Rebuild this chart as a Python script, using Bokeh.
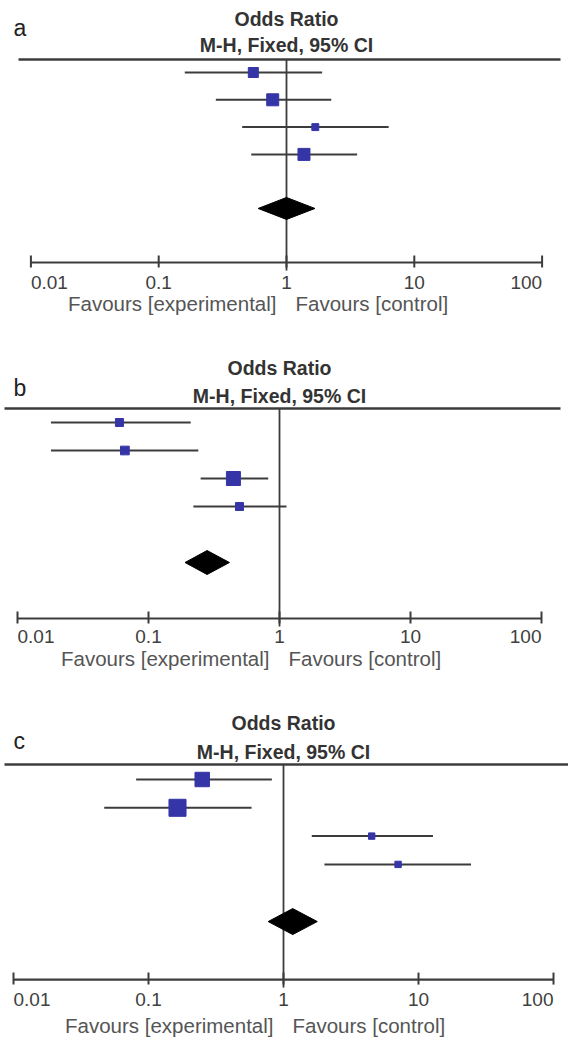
import math
from bokeh.plotting import figure
from bokeh.models import Range1d
from bokeh.layouts import column
from bokeh.core.properties import value
from bokeh.embed import file_html
from bokeh.resources import INLINE

# ---------------- data ----------------
panel_letters = ["a", "b", "c"]
title_line1 = "Odds Ratio"
title_line2 = "M-H, Fixed, 95% CI"
tick_values = [0.01, 0.1, 1, 10, 100]
tick_labels = ["0.01", "0.1", "1", "10", "100"]
favours_left = "Favours [experimental]"
favours_right = "Favours [control]"

# panel a: study odds ratios, 95% CI, weights (%) and pooled estimate
a_or = [0.55, 0.78, 1.68, 1.37]
a_lo = [0.16, 0.28, 0.45, 0.53]
a_hi = [1.90, 2.24, 6.30, 3.57]
a_wt = [23, 33, 11, 33]
a_pooled = [1.00, 0.60, 1.67]  # OR, lower, upper

# panel b
b_or = [0.060, 0.066, 0.445, 0.495]
b_lo = [0.018, 0.018, 0.25, 0.22]
b_hi = [0.21, 0.24, 0.82, 1.13]
b_wt = [16, 19, 49, 16]
b_pooled = [0.28, 0.19, 0.415]

# panel c
c_or = [0.25, 0.164, 4.5, 7.06]
c_lo = [0.081, 0.047, 1.62, 2.01]
c_hi = [0.82, 0.58, 12.8, 24.5]
c_wt = [36, 50, 7, 7]
c_pooled = [1.17, 0.77, 1.78]

# ---------------- layout / style ----------------
W = 568
FONT = value("Liberation Sans")
LINE = "#3c3c3c"
BOX = "#3535a8"

layouts = [
    dict(H=332, p1=72, s=27.3, one=286, dec=127.8, top=0.52, top_x=(18, 560), diam=5.98, axis=7.96,
         title=18, sub=44, letter=27, ticks=282, fav=303, k=2.09, dh=11),
    dict(H=350, p1=90, s=28.0, one=279, dec=131.0, top=0.5, top_x=(4, 560), diam=6, axis=8,
         title=35, sub=63, letter=55, ticks=304, fav=326, k=2.0, dh=12),
    dict(H=356, p1=97, s=28.3, one=283, dec=135.0, top=0.47, top_x=(4, 568), diam=6.02, axis=8.07,
         title=40, sub=69, letter=58, ticks=317, fav=343, k=2.41, dh=13),
]
datasets = [
    (a_or, a_lo, a_hi, a_wt, a_pooled),
    (b_or, b_lo, b_hi, b_wt, b_pooled),
    (c_or, c_lo, c_hi, c_wt, c_pooled),
]


def make_panel(letter, data, L):
    orv, lo, hi, wt, pooled = data
    H, p1, s = L["H"], L["p1"], L["s"]

    def row(px):
        return 1 + (px - p1) / s

    def xval(px):
        return 10 ** ((px - L["one"]) / L["dec"])

    p = figure(width=W, height=H, x_axis_type="log",
               x_range=Range1d(xval(0), xval(W)),
               y_range=Range1d(row(H), row(0)),
               x_axis_location=None, y_axis_location=None,
               toolbar_location=None, output_backend="svg",
               min_border=0, outline_line_color=None,
               background_fill_color="white", border_fill_color="white")
    p.xgrid.visible = False
    p.ygrid.visible = False
    for g in p.grid:
        g.visible = False

    rows = [i + 1 for i in range(len(orv))]

    # header rule
    p.segment(x0=[xval(L["top_x"][0])], y0=[L["top"]], x1=[xval(L["top_x"][1])], y1=[L["top"]],
              line_color=LINE, line_width=2.5)
    # line of no effect
    p.segment(x0=[1], y0=[L["top"]], x1=[1], y1=[L["axis"] + 8 / s],
              line_color=LINE, line_width=1.8)
    # bottom axis
    p.segment(x0=[tick_values[0]], y0=[L["axis"]], x1=[tick_values[-1]], y1=[L["axis"]],
              line_color=LINE, line_width=2.2)
    p.segment(x0=tick_values, y0=[L["axis"] - 7 / s] * len(tick_values),
              x1=tick_values, y1=[L["axis"] + 5 / s] * len(tick_values),
              line_color=LINE, line_width=2)
    aligns = ["left"] + ["center"] * (len(tick_values) - 2) + ["right"]
    for tv, tl, al in zip(tick_values, tick_labels, aligns):
        p.text(x=[tv], y=[row(L["ticks"])], text=[tl], text_font=FONT,
               text_font_size="19px", text_color="#404040", text_align=al,
               text_baseline="middle")

    # confidence intervals and boxes
    p.segment(x0=lo, y0=rows, x1=hi, y1=rows, line_color=LINE, line_width=2)
    p.scatter(x=orv, y=rows, marker="square",
              size=[L["k"] * math.sqrt(w) for w in wt],
              fill_color=BOX, line_color=BOX, line_width=1)

    # pooled diamond
    h = L["dh"] / s
    d = L["diam"]
    p.patch(x=[pooled[1], pooled[0], pooled[2], pooled[0]],
            y=[d, d - h, d, d + h], fill_color="black", line_color="black")

    # texts
    p.text(x=[1, 1], y=[row(L["title"]), row(L["sub"])], text=[title_line1, title_line2],
           text_font=FONT, text_font_size="19.5px", text_font_style="bold",
           text_color="#333333", text_align="center", text_baseline="middle")
    p.text(x=[xval(13)], y=[row(L["letter"])], text=[letter], text_font=FONT,
           text_font_size="23px", text_color="#222222", text_align="left",
           text_baseline="middle")
    p.text(x=[1], y=[row(L["fav"])], text=[favours_left], text_font=FONT,
           text_font_size="20.5px", text_color="#555555", text_align="right",
           text_baseline="middle", x_offset=-10)
    p.text(x=[1], y=[row(L["fav"])], text=[favours_right], text_font=FONT,
           text_font_size="20.5px", text_color="#555555", text_align="left",
           text_baseline="middle", x_offset=9)
    return p


figs = [make_panel(l, d, L) for l, d, L in zip(panel_letters, datasets, layouts)]
page = column(*figs, spacing=0)

open("out.html", "w").write(file_html(page, INLINE))
